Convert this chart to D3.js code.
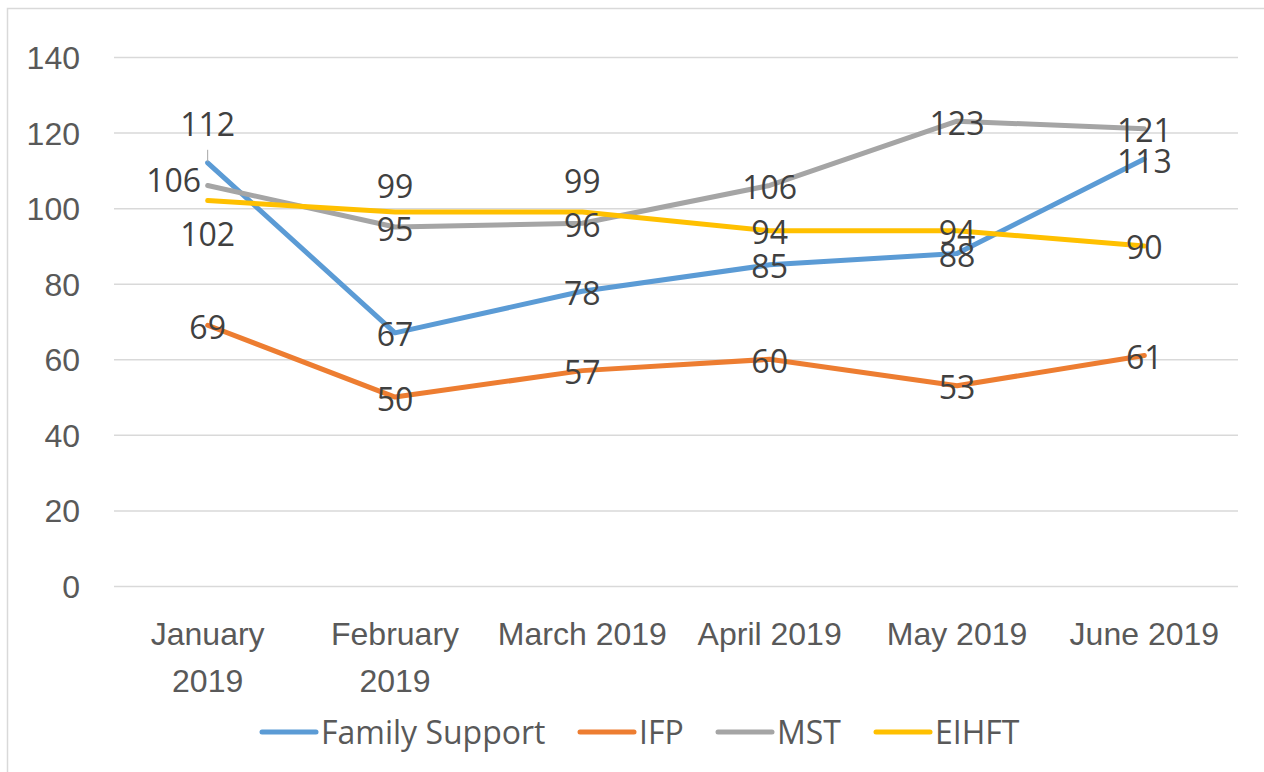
<!DOCTYPE html>
<html>
<head>
<meta charset="utf-8">
<script src="https://cdn.jsdelivr.net/npm/d3@7"></script>
<style>
  body { margin: 0; background: #fff; }
  svg { display: block; font-family: "Open Sans", "Liberation Sans", sans-serif; }
</style>
</head>
<body>
<div class="chart"></div>
<script>
(function() {
  'use strict';

  const WIDTH = 1264;
  const HEIGHT = 772;
  const FONT = '32px';

  // Chart data
  const MONTHS = ['January 2019', 'February 2019', 'March 2019', 'April 2019', 'May 2019', 'June 2019'];
  const FAMILY_SUPPORT = [112, 67, 78, 85, 88, 113];
  const IFP = [69, 50, 57, 60, 53, 61];
  const MST = [106, 95, 96, 106, 123, 121];
  const EIHFT = [102, 99, 99, 94, 94, 90];
  const Y_TICKS = [0, 20, 40, 60, 80, 100, 120, 140];

  const SERIES = [
    { name: 'Family Support', values: FAMILY_SUPPORT, color: '#5B9BD5' },
    { name: 'IFP', values: IFP, color: '#ED7D31' },
    { name: 'MST', values: MST, color: '#A5A5A5' },
    { name: 'EIHFT', values: EIHFT, color: '#FFC000' }
  ];

  // Label nudges (px) where labels were moved off their point
  const LABEL_SHIFT = {
    'Family Support': [[0, -38], null, null, null, null, null],
    'IFP': [null, null, null, null, null, null],
    'MST': [[-34, -5], null, null, null, null, null],
    'EIHFT': [[0, 34], [0, -25], [0, -30], null, null, null]
  };

  const svg = d3.select('.chart')
    .append('svg')
    .attr('width', WIDTH)
    .attr('height', HEIGHT);

  // Chart frame
  svg.append('rect')
    .attr('x', 7.5).attr('y', 8.5)
    .attr('width', WIDTH).attr('height', HEIGHT)
    .attr('fill', 'none')
    .attr('stroke', '#D9D9D9')
    .attr('stroke-width', 1.5);

  const x = d3.scaleBand().domain(MONTHS).range([114, 1238]).padding(0);
  const y = d3.scaleLinear().domain([0, 140]).range([586, 57]);
  const cx = function(m) { return x(m) + x.bandwidth() / 2; };

  // Y axis with gridlines
  const yAxis = svg.append('g')
    .attr('transform', 'translate(114,0)')
    .call(d3.axisLeft(y).tickValues(Y_TICKS).tickSize(-(1238 - 114)).tickPadding(34));
  yAxis.select('.domain').remove();
  yAxis.selectAll('.tick line').attr('stroke', '#D9D9D9').attr('stroke-width', 1.5);
  yAxis.selectAll('.tick text')
    .attr('fill', '#595959')
    .style('font-size', FONT)
    .attr('dy', '0.36em');

  // X axis labels (wrapped like the original)
  const xAxis = svg.append('g')
    .attr('transform', 'translate(0,586)')
    .call(d3.axisBottom(x).tickSize(0).tickPadding(0));
  xAxis.select('.domain').remove();
  xAxis.selectAll('.tick text')
    .attr('fill', '#595959')
    .style('font-size', FONT)
    .attr('y', 0).attr('dy', null)
    .each(function(d) {
      const t = d3.select(this);
      const wrap = (d.indexOf('January') === 0 || d.indexOf('February') === 0);
      const lines = wrap ? d.split(' ') : [d];
      t.text(null);
      lines.forEach(function(l, n) {
        t.append('tspan').attr('x', 0).attr('y', 59 + n * 47).text(l);
      });
    });

  // Lines
  const line = d3.line()
    .x(function(d, n) { return cx(MONTHS[n]); })
    .y(function(d) { return y(d); });

  for (let i = 0; i < SERIES.length; ++i) {
    svg.append('path')
      .attr('d', line(SERIES[i].values))
      .attr('fill', 'none')
      .attr('stroke', SERIES[i].color)
      .attr('stroke-width', 5)
      .attr('stroke-linejoin', 'round')
      .attr('stroke-linecap', 'round');
  }

  // Leader line for the moved Jan label
  svg.append('line')
    .attr('x1', cx(MONTHS[0])).attr('x2', cx(MONTHS[0]))
    .attr('y1', y(FAMILY_SUPPORT[0]) - 13).attr('y2', y(FAMILY_SUPPORT[0]) - 1)
    .attr('stroke', '#A6A6A6').attr('stroke-width', 1);

  // Data labels
  for (let i = 0; i < SERIES.length; ++i) {
    const s = SERIES[i];
    svg.append('g').selectAll('text')
      .data(s.values)
      .join('text')
      .attr('x', function(d, n) {
        const sh = LABEL_SHIFT[s.name][n];
        return cx(MONTHS[n]) + (sh ? sh[0] : 0);
      })
      .attr('y', function(d, n) {
        const sh = LABEL_SHIFT[s.name][n];
        return y(d) + (sh ? sh[1] : 2);
      })
      .attr('dy', '0.36em')
      .attr('text-anchor', 'middle')
      .attr('fill', '#404040')
      .style('font-size', FONT)
      .text(function(d) { return d; });
  }

  // Legend
  const LEGEND_X = [262, 580, 718, 876];
  const legend = svg.append('g').attr('class', 'legend');
  for (let i = 0; i < SERIES.length; ++i) {
    const g = legend.append('g').attr('transform', 'translate(' + LEGEND_X[i] + ',732)');
    g.append('line')
      .attr('x1', 0).attr('x2', 54)
      .attr('stroke', SERIES[i].color)
      .attr('stroke-width', 5)
      .attr('stroke-linecap', 'round');
    g.append('text')
      .attr('x', 59)
      .attr('dy', '0.36em')
      .attr('fill', '#595959')
      .style('font-size', FONT)
      .text(SERIES[i].name);
  }
})();
</script>
</body>
</html>
